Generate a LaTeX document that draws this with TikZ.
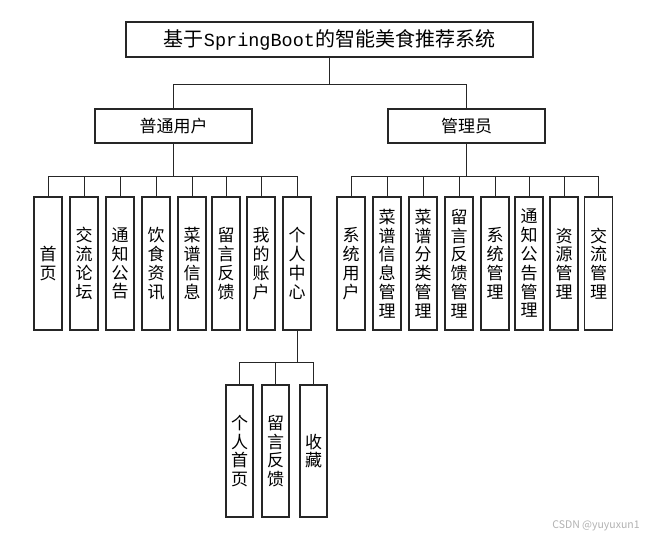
\documentclass[tikz,border=0pt]{standalone}
\usepackage{fontspec}
\setmainfont{Noto Sans CJK SC}
\newfontfamily\cjk{Noto Sans CJK SC}
\newfontfamily\latinmono{Liberation Mono}
\begin{document}
\begin{tikzpicture}[x=1pt,y=-1pt,
  box/.style={draw=black!85,line width=1.1pt,rectangle,inner sep=0pt,align=center,
    font=\cjk\fontsize{17}{18.8}\selectfont},
  vbox/.style={box,minimum width=28pt,minimum height=133pt},
  sbox/.style={box,minimum width=27pt,minimum height=132pt},
  link/.style={draw=black!85,line width=0.9pt}]
\useasboundingbox (0,0) rectangle (648,538);
\fill[white] (0,0) rectangle (648,538);
% title
\node[box,minimum width=407pt,minimum height=35pt,font=\cjk\fontsize{20}{22}\selectfont] (title) at (329.5,39.5)
  {基于{\latinmono\fontsize{18.5}{22}\selectfont SpringBoot}的智能美食推荐系统};
% second level
\node[box,minimum width=157pt,minimum height=34pt] (user) at (173.5,126) {普通用户};
\node[box,minimum width=157pt,minimum height=34pt] (admin) at (466.5,126) {管理员};
% user children
\node[vbox] (u1) at (48,263.5) {首\\页};
\node[vbox] (u2) at (84,263.5) {交\\流\\论\\坛};
\node[vbox] (u3) at (120,263.5) {通\\知\\公\\告};
\node[vbox] (u4) at (156,263.5) {饮\\食\\资\\讯};
\node[vbox] (u5) at (192,263.5) {菜\\谱\\信\\息};
\node[vbox] (u6) at (226,263.5) {留\\言\\反\\馈};
\node[vbox] (u7) at (261,263.5) {我\\的\\账\\户};
\node[vbox] (u8) at (297,263.5) {个\\人\\中\\心};
% admin children
\node[vbox] (a1) at (351,263.5) {系\\统\\用\\户};
\node[vbox] (a2) at (387,263.5) {菜\\谱\\信\\息\\管\\理};
\node[vbox] (a3) at (423,263.5) {菜\\谱\\分\\类\\管\\理};
\node[vbox] (a4) at (459,263.5) {留\\言\\反\\馈\\管\\理};
\node[vbox] (a5) at (495,263.5) {系\\统\\管\\理};
\node[vbox] (a6) at (529,263.5) {通\\知\\公\\告\\管\\理};
\node[vbox] (a7) at (564,263.5) {资\\源\\管\\理};
\node[vbox] (a8) at (598.5,263.5) {交\\流\\管\\理};
% sub children of 个人中心
\node[sbox] (s1) at (239.5,451) {个\\人\\首\\页};
\node[sbox] (s2) at (275.5,451) {留\\言\\反\\馈};
\node[sbox] (s3) at (313.5,451) {收\\藏};
% connectors
\draw[link] (title.south) -- ++(0,27) -| (user.north);
\draw[link] (title.south) -- ++(0,27) -| (admin.north);
\foreach \c in {u1,u2,u3,u4,u5,u6,u7,u8}
  \draw[link] (user.south) -- ++(0,33) -| (\c.north);
\foreach \c in {a1,a2,a3,a4,a5,a6,a7,a8}
  \draw[link] (admin.south) -- ++(0,33) -| (\c.north);
\foreach \c in {s1,s2,s3}
  \draw[link] (u8.south) -- ++(0,32) -| (\c.north);
% watermark
\node[text=black!30,font=\fontsize{10.5}{11}\selectfont,inner sep=0pt] (wm) at (596,526) {CSDN @yuyuxun1};
\end{tikzpicture}
\end{document}
